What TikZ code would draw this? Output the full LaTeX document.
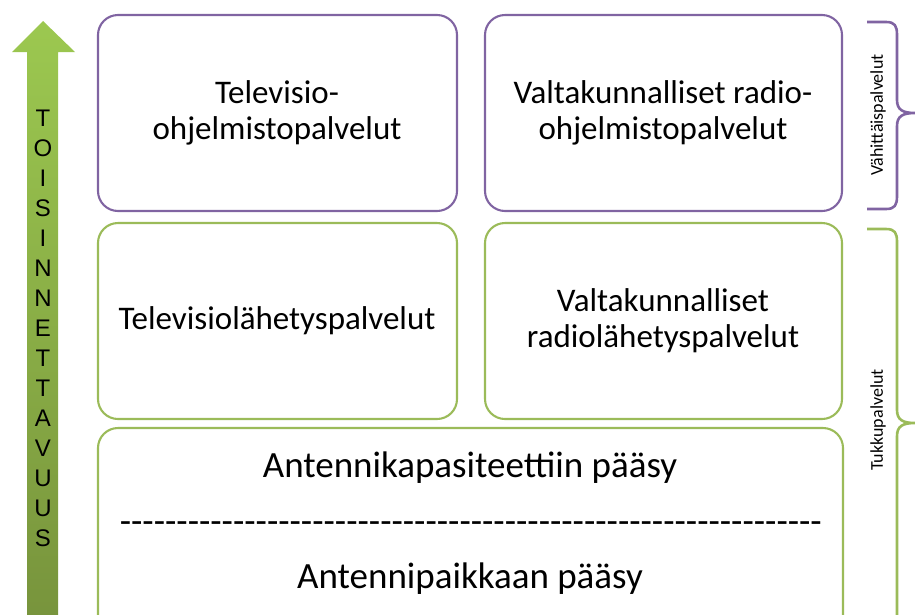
\documentclass[tikz,border=0pt]{standalone}
\usepackage{fontspec}
\setmainfont{Carlito}
\newfontfamily\arialf{Liberation Sans}
\newfontfamily\plainf{Carlito}
\definecolor{purp}{HTML}{8064A2}
\definecolor{grn}{HTML}{9BBB59}
\definecolor{arrtop}{HTML}{9CC850}
\definecolor{arrbot}{HTML}{77933C}
\begin{document}
\begin{tikzpicture}[x=1pt,y=-1pt,
  box/.style={draw,line width=2.1pt,rounded corners=20pt},
  pbox/.style={box,draw=purp},
  gbox/.style={box,draw=grn},
  btxt/.style={font=\fontsize{33}{36}\selectfont,align=center,inner sep=0pt},
  bigtxt/.style={font=\fontsize{37}{40}\selectfont,inner sep=0pt},
  brace/.style={line width=2.6pt,line join=round},
  blabel/.style={font=\fontsize{18}{20}\selectfont,rotate=90,inner sep=0pt}]
\useasboundingbox (0,0) rectangle (915,614);
\begin{scope}
\clip (0,0) rectangle (915,614);
% arrow
\shade[top color=arrtop,bottom color=arrbot] (43,21) -- (75,52) -- (58,52) -- (58,630) -- (27,630) -- (27,52) -- (12,52) -- cycle;
\foreach \ch [count=\i from 0] in {T,O,I,S,I,N,N,E,T,T,A,V,U,U,S}
  \node[font=\arialf\fontsize{24}{26}\selectfont,inner sep=0pt] (l\i) at (43,{118+30*\i}) {\ch};
% boxes
\draw[pbox] (98,15) rectangle (457,211);
\draw[pbox] (485,15) rectangle (842,211);
\draw[gbox] (98,223) rectangle (457,419);
\draw[gbox] (485,223) rectangle (842,419);
\draw[gbox] (98,428) rectangle (843,640);
\end{scope}
\node[btxt] (t1) at (277,113) {Televisio-\\ohjelmistopalvelut};
\node[btxt] (t2) at (663,113) {Valtakunnalliset radio-\\ohjelmistopalvelut};
\node[btxt] (t3) at (277,321) {Televisiolähetyspalvelut};
\node[btxt] (t4) at (663,321) {Valtakunnalliset\\radiolähetyspalvelut};
\node[bigtxt] (t5) at (470,468) {Antennikapasiteettiin pääsy};
\node[font=\plainf\fontsize{37}{40}\selectfont,inner sep=0pt] (dl) at (471,528) {--------------------------------------------------------------};
\node[bigtxt] (t6) at (470,579) {Antennipaikkaan pääsy};
% braces
\draw[brace,purp] (867,22) -- (886,22) .. controls (895,22) and (897,26) .. (897,35) -- (897,100) .. controls (897,110) and (903,113) .. (915,113) .. controls (903,113) and (897,116) .. (897,126) -- (897,196) .. controls (897,205) and (895,209) .. (886,209) -- (867,209);
\node[blabel] (v) at (878,115) {Vähittäispalvelut};
\begin{scope}
\clip (0,0) rectangle (915,614);
\draw[brace,grn] (867,229) -- (886,229) .. controls (895,229) and (897,233) .. (897,242) -- (897,410) .. controls (897,420) and (903,423) .. (915,423) .. controls (903,423) and (897,426) .. (897,436) -- (897,620);
\end{scope}
\node[blabel] (tk) at (878,420) {Tukkupalvelut};
\end{tikzpicture}
\end{document}
